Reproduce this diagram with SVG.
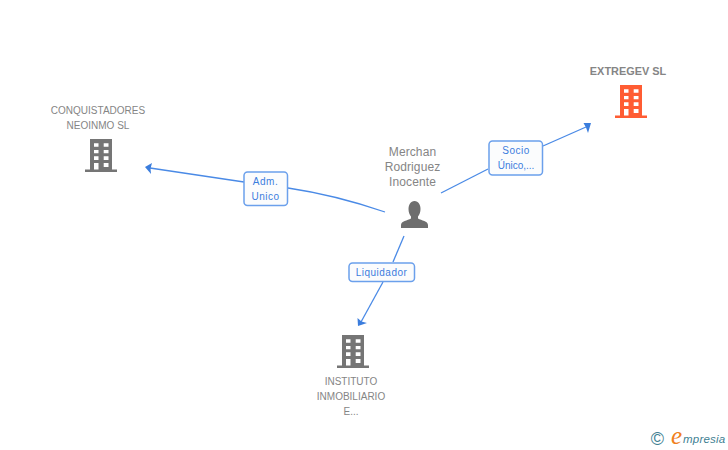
<svg xmlns="http://www.w3.org/2000/svg" width="728" height="450" viewBox="0 0 728 450">
<style>
text{font-family:"Liberation Sans",Arial,sans-serif}
.n{font-size:10px;fill:#858585;text-anchor:middle}
.p{font-size:12px;fill:#858585;text-anchor:middle;letter-spacing:.1px}
.l{font-size:10px;fill:#3b7ddd;text-anchor:middle;letter-spacing:.5px}
.c{fill:none;stroke:#4a8ae6;stroke-width:1.3}
.b{fill:#fbfcfd;stroke:#6ba0ec;stroke-width:1.5}
.w{fill:#fff}
.ah{fill:#3b7ddd}
</style>
<defs>
<g id="bld">
<path d="M5 0H27V30.600H32V33H0V30.600H5Z"/>
<path class="w" d="M9 4.300h4.500v3.400H9ZM18.700 4.300h4.800v3.400h-4.800ZM9 11h4.500v3.300H9ZM18.700 11h4.800v3.300h-4.800ZM9 17.300h4.500V21H9ZM18.700 17.300h4.800V21h-4.800ZM9 24h4.500v6.600H9ZM18.700 24h4.800v4h-4.800Z"/>
</g>
</defs>
<rect width="728" height="450" fill="#fff"/>
<g id="connectors">
<path class="c" d="M385 212C350 200 315 192 288 188"/>
<path class="c" d="M244 182L150 168"/>
<path class="ah" d="M145 167L152 163L150.500 168.500L151 174Z"/>
<path class="c" d="M441 193L488 169"/>
<path class="c" d="M543 146L586 127"/>
<path class="ah" d="M591 123L583.500 123L586 127.500L588 133Z"/>
<path class="c" d="M404 236L393 262"/>
<path class="c" d="M383 282L361 322"/>
<path class="ah" d="M358 326L357.500 318L361.500 321.500L367 323Z"/>
</g>
<g id="label-adm">
<rect class="b" x="244" y="172" width="43.500" height="33.500" rx="3.500"/>
<text class="l" x="265.500" y="185">Adm.</text>
<text class="l" x="265.500" y="200">Unico</text>
</g>
<g id="label-socio">
<rect class="b" x="489" y="141" width="53.500" height="34" rx="3.500"/>
<text class="l" x="516" y="154">Socio</text>
<text class="l" x="516" y="169" style="letter-spacing:0">Único,...</text>
</g>
<g id="label-liquidador">
<rect class="b" x="349" y="263" width="65.500" height="18.500" rx="3.500"/>
<text class="l" x="381.500" y="276">Liquidador</text>
</g>
<g id="node-extregev">
<text class="n" x="628" y="75" style="font-weight:bold;font-size:10.900px">EXTREGEV SL</text>
<use href="#bld" x="615" y="85" fill="#ff5c33"/>
</g>
<g id="node-conquistadores">
<text class="n" x="98" y="114">CONQUISTADORES</text>
<text class="n" x="98" y="129">NEOINMO SL</text>
<use href="#bld" x="85" y="139" fill="#757575"/>
</g>
<g id="node-instituto">
<use href="#bld" x="337" y="335" fill="#757575"/>
<text class="n" x="351" y="385">INSTITUTO</text>
<text class="n" x="351" y="400">INMOBILIARIO</text>
<text class="n" x="351" y="415">E...</text>
</g>
<g id="node-merchan">
<text class="p" x="412.500" y="156">Merchan</text>
<text class="p" x="412.500" y="171">Rodriguez</text>
<text class="p" x="412.500" y="186">Inocente</text>
<path fill="#6e6e6e" d="M414.500 201C418.500 201 420.500 205 420.500 209C420.500 212 419.500 215 418 216.500V218.500C421.500 220.500 428 221 428 225V228H401V225C401 221 407.500 220.500 411 218.500V216.500C409.500 215 408.500 212 408.500 209C408.500 205 410.500 201 414.500 201Z"/>
</g>
<g id="logo">
<text x="657.500" y="444.500" style="font-size:18px;fill:#3f7f93;text-anchor:middle">©</text>
<text x="671" y="444" style="font-size:25px;fill:#f08020;font-style:italic;font-family:'Liberation Serif',serif">e</text>
<text x="683" y="442.500" style="font-size:11.500px;fill:#3f7f93;font-style:italic;letter-spacing:.2px">mpresia</text>
</g>
</svg>
